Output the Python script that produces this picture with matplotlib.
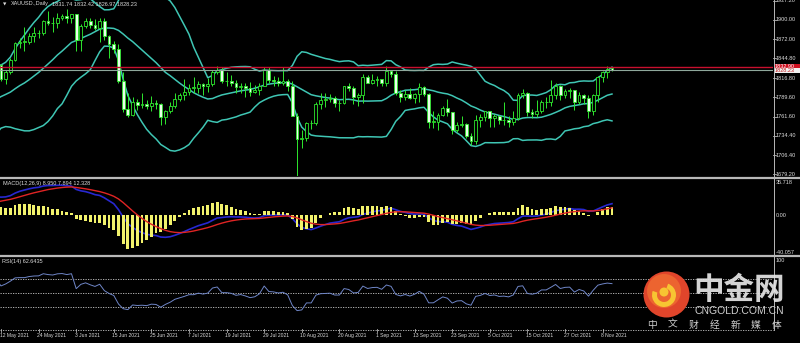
import matplotlib.pyplot as plt
import matplotlib.transforms as mtrans
from matplotlib.patches import Circle, Rectangle, Wedge
import numpy as np
import pandas as pd

plt.rcParams["font.family"] = ["Liberation Sans", "DejaVu Sans"]

# closes before 12 May 2021 (off screen, only feed the indicators)
warmup_close = [
    1860, 1836, 1834, 1792, 1814, 1831, 1838, 1842, 1826, 1824,
    1819, 1794, 1775, 1775, 1784, 1809, 1806, 1797, 1770, 1734,
    1724, 1737, 1712, 1698, 1700, 1683, 1716, 1726, 1722, 1719,
    1731, 1732, 1745, 1736, 1745, 1738, 1727, 1734, 1725, 1732,
    1712, 1685, 1708, 1728, 1729, 1728, 1743, 1737, 1756, 1744,
    1732, 1746, 1736, 1764, 1777, 1770, 1779, 1793, 1783, 1777,
    1780, 1778, 1774, 1772, 1768, 1792, 1779, 1785, 1815, 1831,
    1836, 1836,
]

# daily bars 12 May 2021 .. 10 Nov 2021
open_ = [
    1836, 1815, 1826, 1843, 1867, 1869, 1869, 1877, 1881, 1882,
    1898, 1896, 1895, 1903, 1905, 1903, 1908, 1871, 1891, 1899,
    1893, 1888, 1898, 1877, 1866, 1858, 1812, 1773, 1764, 1782,
    1778, 1779, 1776, 1781, 1779, 1761, 1770, 1777, 1787, 1792,
    1797, 1803, 1803, 1808, 1805, 1808, 1825, 1829, 1812, 1812,
    1810, 1804, 1806, 1802, 1797, 1799, 1806, 1829, 1814, 1813,
    1810, 1812, 1805, 1763, 1729, 1731, 1752, 1752, 1780, 1786,
    1787, 1788, 1781, 1781, 1805, 1802, 1790, 1792, 1818, 1810,
    1814, 1815, 1809, 1827, 1823, 1795, 1789, 1794, 1788, 1794,
    1804, 1794, 1754, 1754, 1764, 1774, 1768, 1743, 1750, 1751,
    1734, 1726, 1757, 1761, 1769, 1760, 1762, 1756, 1757, 1754,
    1760, 1793, 1796, 1768, 1765, 1769, 1782, 1782, 1793, 1806,
    1793, 1798, 1799, 1783, 1793, 1788, 1769, 1792, 1818, 1825,
    1831.74,
]
high = [
    1837, 1828, 1845, 1869, 1874, 1890, 1882, 1890, 1886, 1900,
    1913, 1904, 1910, 1908, 1916, 1909, 1909, 1894, 1903, 1903,
    1901, 1903, 1903, 1878, 1870, 1866, 1826, 1795, 1789, 1787,
    1795, 1786, 1791, 1786, 1781, 1771, 1782, 1795, 1795, 1815,
    1808, 1818, 1812, 1809, 1817, 1828, 1834, 1833, 1825, 1821,
    1814, 1809, 1810, 1811, 1807, 1810, 1832, 1832, 1820, 1818,
    1832, 1816, 1813, 1766, 1743, 1754, 1756, 1782, 1795, 1795,
    1794, 1791, 1786, 1806, 1809, 1806, 1796, 1823, 1821, 1823,
    1820, 1816, 1834, 1828, 1827, 1799, 1800, 1802, 1796, 1809,
    1806, 1795, 1770, 1767, 1776, 1787, 1768, 1754, 1762, 1752,
    1738, 1764, 1765, 1769, 1770, 1765, 1764, 1782, 1762, 1769,
    1796, 1801, 1797, 1772, 1785, 1785, 1789, 1814, 1810, 1807,
    1801, 1802, 1800, 1797, 1794, 1793, 1794, 1819, 1827, 1834,
    1832.42,
]
low = [
    1813, 1808, 1823, 1841, 1860, 1856, 1865, 1869, 1874, 1878,
    1893, 1883, 1889, 1900, 1896, 1896, 1856, 1855, 1889, 1888,
    1885, 1868, 1871, 1845, 1853, 1810, 1768, 1761, 1762, 1771,
    1774, 1773, 1770, 1772, 1750, 1751, 1766, 1774, 1784, 1786,
    1793, 1795, 1795, 1792, 1797, 1805, 1822, 1810, 1806, 1806,
    1795, 1796, 1790, 1791, 1795, 1793, 1805, 1810, 1806, 1805,
    1807, 1798, 1762, 1677, 1717, 1726, 1744, 1750, 1772, 1775,
    1783, 1775, 1770, 1779, 1798, 1780, 1776, 1781, 1809, 1808,
    1806, 1805, 1806, 1818, 1792, 1782, 1786, 1787, 1781, 1783,
    1791, 1745, 1745, 1742, 1762, 1763, 1737, 1740, 1746, 1731,
    1721, 1722, 1746, 1755, 1747, 1746, 1751, 1749, 1746, 1750,
    1757, 1788, 1762, 1760, 1761, 1766, 1774, 1777, 1787, 1785,
    1788, 1788, 1771, 1780, 1779, 1759, 1764, 1783, 1811, 1817,
    1826.97,
]
close = [
    1815, 1826, 1843, 1867, 1869, 1869, 1877, 1881, 1882, 1898,
    1896, 1895, 1903, 1905, 1903, 1908, 1871, 1891, 1899, 1893,
    1888, 1898, 1877, 1866, 1858, 1812, 1773, 1764, 1782, 1778,
    1779, 1776, 1781, 1779, 1761, 1770, 1777, 1787, 1792, 1797,
    1803, 1803, 1808, 1805, 1808, 1825, 1829, 1812, 1812, 1810,
    1804, 1806, 1802, 1797, 1799, 1806, 1829, 1814, 1813, 1810,
    1812, 1805, 1763, 1729, 1731, 1752, 1752, 1780, 1786, 1787,
    1788, 1781, 1781, 1805, 1802, 1790, 1792, 1818, 1810, 1814,
    1815, 1809, 1827, 1823, 1795, 1789, 1794, 1788, 1794, 1804,
    1794, 1754, 1754, 1764, 1774, 1768, 1743, 1750, 1751, 1734,
    1726, 1757, 1761, 1769, 1760, 1762, 1756, 1757, 1754, 1760,
    1793, 1796, 1768, 1765, 1769, 1782, 1782, 1793, 1806, 1793,
    1798, 1799, 1783, 1793, 1788, 1769, 1792, 1818, 1825, 1830,
    1828.23,
]

date_labels = ["12 May 2021", "24 May 2021", "3 Jun 2021", "15 Jun 2021",
               "25 Jun 2021", "7 Jul 2021", "19 Jul 2021", "29 Jul 2021",
               "10 Aug 2021", "20 Aug 2021", "1 Sep 2021", "13 Sep 2021",
               "23 Sep 2021", "5 Oct 2021", "15 Oct 2021", "27 Oct 2021",
               "8 Nov 2021"]
label_step = 8

price_ticks = [1927.20, 1900.00, 1872.00, 1844.80, 1816.80,
               1789.60, 1761.60, 1734.40, 1706.40, 1679.20]
macd_ticks = [35.718, 0.00, -40.057]
rsi_levels = [30, 50, 70]
ask_price = 1832.90

GREEN = "#2ee82e"
BAND = "#3fc6b4"
TXT = "#dcdcdc"

W, H = 800, 343
fig = plt.figure(figsize=(W / 100, H / 100), dpi=100, facecolor="black")


def px_axes(x0, y0, x1, y1):
    ax = fig.add_axes([x0 / W, 1 - y1 / H, (x1 - x0) / W, (y1 - y0) / H])
    ax.set_facecolor("black")
    for s in ax.spines.values():
        s.set_visible(False)
    ax.set_xticks([])
    ax.set_yticks([])
    ax.set_xlim(-0.21, 164.26)
    return ax


main = px_axes(0, 0, 773, 176)
macd = px_axes(0, 179, 773, 254)
rsi = px_axes(0, 257, 773, 329)

# indicators
all_close = pd.Series(warmup_close + close,
                      index=np.arange(-len(warmup_close), len(close)), dtype=float)
xa = all_close.index.values
mid = all_close.rolling(20).mean()
sd = all_close.rolling(20).std(ddof=0)
dif = all_close.ewm(span=12, adjust=False).mean() - all_close.ewm(span=26, adjust=False).mean()
dea = dif.ewm(span=9, adjust=False).mean()
hist = 2 * (dif - dea)
delta = all_close.diff()
gain = delta.clip(lower=0).ewm(alpha=1 / 14, adjust=False).mean()
loss = (-delta.clip(upper=0)).ewm(alpha=1 / 14, adjust=False).mean()
rsi_v = 100 - 100 / (1 + gain / loss)

# main: candles + bollinger
x = np.arange(len(close))
o, h, l, c = (np.array(v, dtype=float) for v in (open_, high, low, close))
bull = c >= o
for band in (mid, mid + 2 * sd, mid - 2 * sd):
    main.plot(xa, band, color=BAND, lw=1.1, zorder=1)
main.vlines(x, l, h, color=GREEN, lw=0.7, zorder=2)
main.bar(x, np.maximum(np.abs(c - o), 0.5), bottom=np.minimum(o, c), width=0.6,
         color=np.where(bull, "black", "#eaffea"), edgecolor=GREEN, lw=0.6, zorder=3)
main.axhline(ask_price, color="#c8102e", lw=1.0, zorder=4)
main.axhline(c[-1], color="#8fa89c", lw=0.8, zorder=4)
main.set_ylim(1676.4, 1928.6)

tr = mtrans.blended_transform_factory(main.transAxes, main.transData)
for p in price_ticks:
    main.text(776 / 773, p, f"{p:.2f}", transform=tr, color=TXT, fontsize=4,
              va="center", ha="left", clip_on=False)
    main.plot([1, 1.004], [p, p], transform=tr, color="#b0b0b0", lw=0.6, clip_on=False)

# macd
macd.plot(xa, dif, color="#2828d0", lw=1.2, zorder=1)
macd.bar(xa, hist, width=0.6, color="#f2f26c", zorder=2)
macd.plot(xa, dea, color="#e02424", lw=1.0, zorder=3)
macd.set_ylim(-42.2, 39.0)
trm = mtrans.blended_transform_factory(macd.transAxes, macd.transData)
for v in macd_ticks:
    macd.text(776 / 773, v, f"{v:.3f}" if v else "0.00", transform=trm, color=TXT,
              fontsize=4, va="center", ha="left", clip_on=False)

# rsi
for lv in rsi_levels:
    rsi.axhline(lv, color="#c8c8c8", lw=0.6, ls=(0, (1.5, 1.5)), zorder=1)
rsi.plot(xa, rsi_v, color="#6f86c8", lw=0.7, zorder=2)
rsi.set_ylim(0, 100)
trr = mtrans.blended_transform_factory(rsi.transAxes, rsi.transData)
rsi.text(776 / 773, 95, "100", transform=trr, color=TXT, fontsize=4,
         va="center", ha="left", clip_on=False)

# date axis
trd = mtrans.blended_transform_factory(rsi.transData, rsi.transAxes)
for k, lab in enumerate(date_labels):
    xi = k * label_step
    rsi.text(xi - 0.3, -0.085, lab, transform=trd, color=TXT, fontsize=3.6,
             va="center", ha="left", clip_on=False)
    rsi.plot([xi, xi], [0, -0.04], transform=trd, color="#b0b0b0", lw=0.6, clip_on=False)

# overlay: frame, labels, watermark
ov = fig.add_axes([0, 0, 1, 1], zorder=10)
ov.set_xlim(0, W)
ov.set_ylim(H, 0)
ov.axis("off")
ov.patch.set_alpha(0)
for yy in (177.5, 255.5):
    ov.plot([0, W], [yy, yy], color="#b8b8b8", lw=1.6)
ov.plot([773.5, 773.5], [0, 330], color="#b8b8b8", lw=0.7)
ov.plot([0, 773], [329.5, 329.5], color="#c8c8c8", lw=0.6, ls=(0, (1.5, 1.5)))

ya = 0.7 + (1927.2 - ask_price) / 1.4253
yb = 0.7 + (1927.2 - c[-1]) / 1.4253
ov.add_patch(Rectangle((774, ya - 3), 26, 6, fc="#d01020", ec="none"))
ov.text(775, ya, f"{ask_price:.2f}", color="white", fontsize=4, va="center")
ov.add_patch(Rectangle((774, yb - 2.2), 26, 5.2, fc="#f2f2f2", ec="none"))
ov.text(775, yb + 0.4, f"{c[-1]:.2f}", color="#c01818", fontsize=4, va="center")

ov.text(3, 4, "▼", color=TXT, fontsize=3.2, va="center", family="DejaVu Sans")
ov.text(11, 4, "XAUUSD.,Daily", color=TXT, fontsize=4, va="center")
ov.text(52, 4, f"{o[-1]:.2f} {h[-1]:.2f} {l[-1]:.2f} {c[-1]:.2f}",
        color=TXT, fontsize=4, va="center")
ov.text(3, 183.5, "MACD(12,26,9) 8.950 7.894 12.328", color=TXT, fontsize=4, va="center")
ov.text(2, 261, "RSI(14) 62.6435", color=TXT, fontsize=4, va="center")

# watermark
ov.add_patch(Circle((666.5, 294.5), 23, fc="#e0452b", ec="none"))
ov.add_patch(Circle((664, 291), 17, fc="#ec6430", ec="none"))
ov.add_patch(Wedge((664, 295), 12, -70, 200, width=5, fc="#f7c532", ec="none"))
ov.add_patch(Circle((664, 292), 4.5, fc="#f7c532", ec="none"))
cjk = ["Noto Sans CJK SC", "DejaVu Sans"]
ov.text(739, 290, "中金网", family=cjk, fontsize=22, fontweight="bold",
        color="#e6e6e6", ha="center", va="center", alpha=0.92)
ov.text(739, 311.5, "CNGOLD.COM.CN", color="#d0d0d0", fontsize=7.5,
        ha="center", va="center")
for k, ch in enumerate("中文财经新媒体"):
    ov.text(652 + k * 20.8, 325, ch, family=cjk, color="#cfcfcf", fontsize=7,
            ha="center", va="center")

fig.savefig("out.png", dpi=100, facecolor="black")
